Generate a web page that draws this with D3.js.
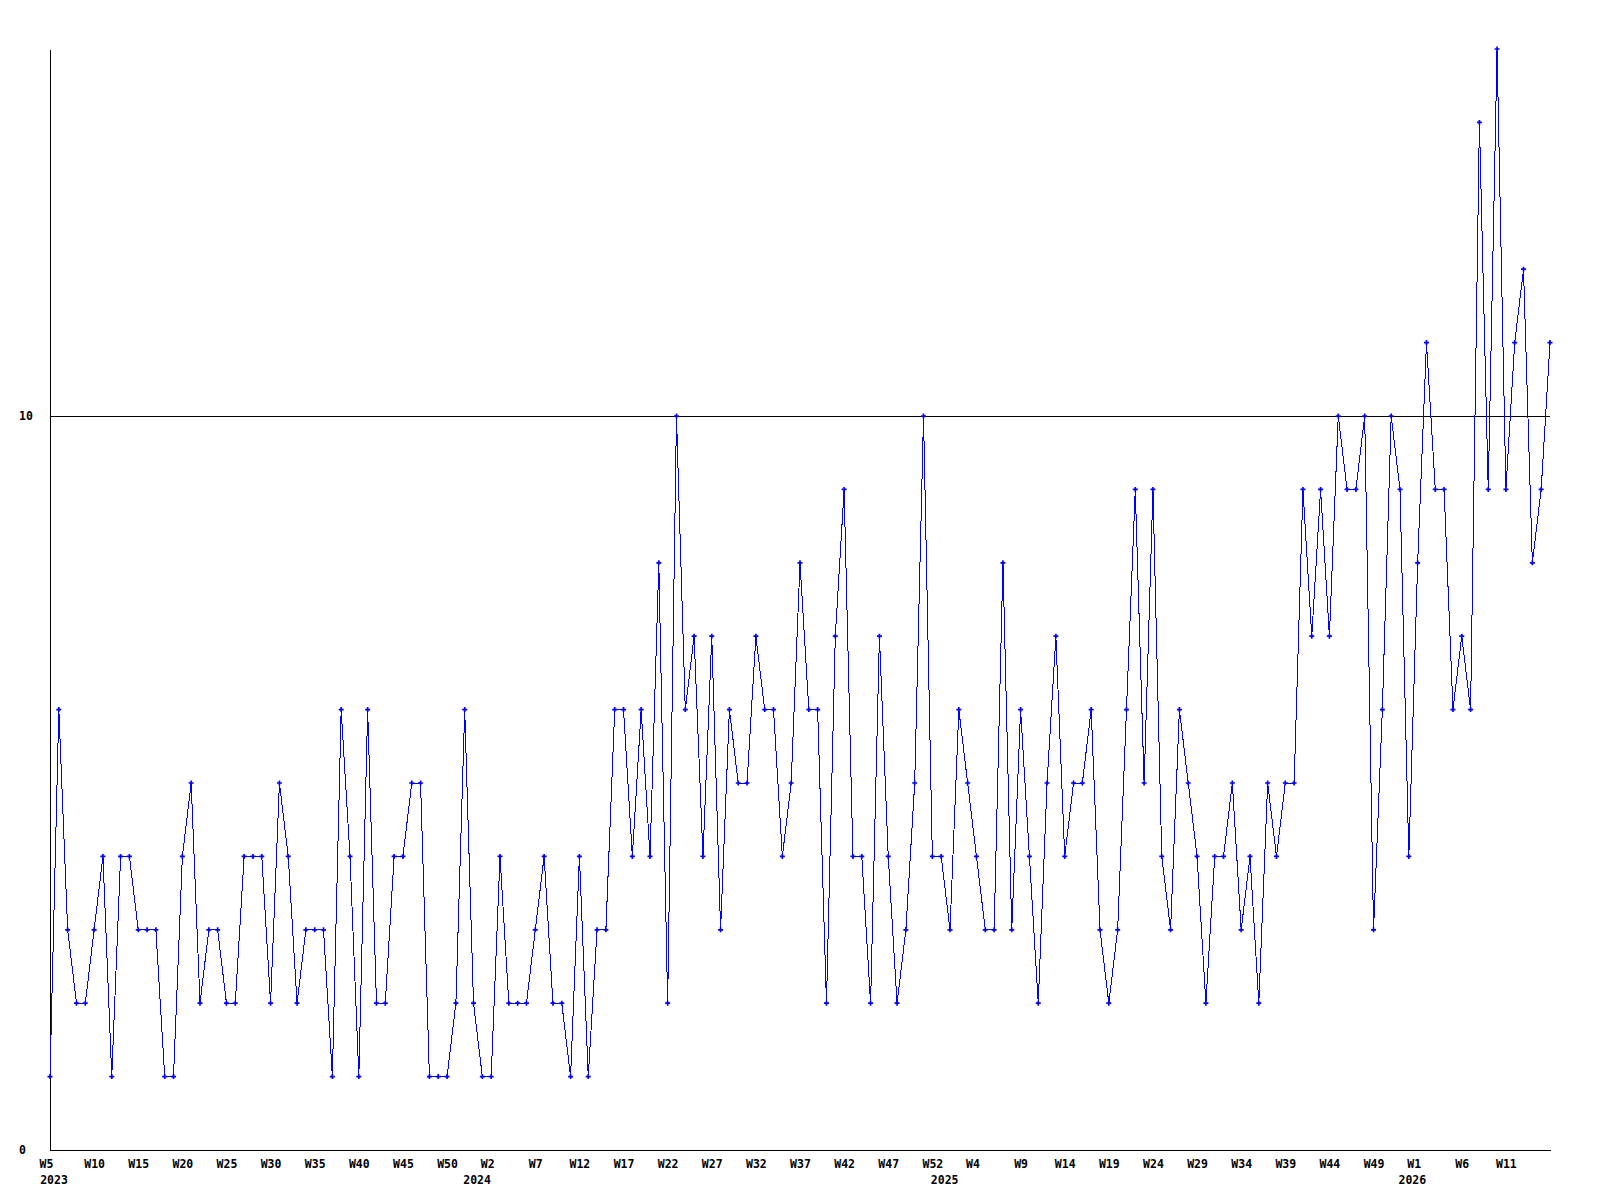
<!DOCTYPE html>
<html>
    <head>
        <title></title>
        <style>
         body { margin: 0; background: #fff; }
         text { font-family: "DejaVu Sans Mono", monospace; font-weight: bold; font-size: 11.5px; fill: #000; }
         .axis path, .grid line { stroke: #000; shape-rendering: crispEdges; }
         .series path { fill: none; stroke: #0000ff; stroke-width: 1px; shape-rendering: crispEdges; }
         .marks path { fill: #0000ff; }
        </style>
    </head>
    <body>
        <svg width="1600" height="1200"></svg>

        <script src="https://cdn.jsdelivr.net/npm/d3@7"></script>
        <script>

         // weeks covered per year
         var years = [2023, 2024, 2025, 2026];
         var firstWeek = [5, 1, 1, 1];
         var lastWeek = [53, 53, 53, 16];

         // weekly counts, W5 2023 .. W16 2026
         var values = [
             1, 6, 3, 2, 2, 3, 4, 1, 4, 4,
             3, 3, 3, 1, 1, 4, 5, 2, 3, 3,
             2, 2, 4, 4, 4, 2, 5, 4, 2, 3,
             3, 3, 1, 6, 4, 1, 6, 2, 2, 4,
             4, 5, 5, 1, 1, 1, 2, 6, 2, 1,
             1, 4, 2, 2, 2, 3, 4, 2, 2, 1,
             4, 1, 3, 3, 6, 6, 4, 6, 4, 8,
             2, 10, 6, 7, 4, 7, 3, 6, 5, 5,
             7, 6, 6, 4, 5, 8, 6, 6, 2, 7,
             9, 4, 4, 2, 7, 4, 2, 3, 5, 10,
             4, 4, 3, 6, 5, 4, 3, 3, 8, 3,
             6, 4, 2, 5, 7, 4, 5, 5, 6, 3,
             2, 3, 6, 9, 5, 9, 4, 3, 6, 5,
             4, 2, 4, 4, 5, 3, 4, 2, 5, 4,
             5, 5, 9, 7, 9, 7, 10, 9, 9, 10,
             3, 6, 10, 9, 4, 8, 11, 9, 9, 6,
             7, 6, 14, 9, 15, 9, 11, 12, 8, 9,
             11
         ];

         var yTicks = [0, 10];
         var yMax = 15;
         var tickEvery = 5;

         // build categories "2023-W5" ...
         var categories = [];
         years.forEach(function(yr, k) {
             for (var w = firstWeek[k]; w <= lastWeek[k]; w++) categories.push(yr + '-W' + w);
         });
         var data = categories.map(function(c, i) { return { cat: c, value: values[i] }; });

         var svg = d3.select('svg');
         var plotLeft = 50, plotRight = 1550, plotTop = 49, plotBottom = 1150;

         var x = d3.scalePoint().domain(categories).range([plotLeft, plotRight]);
         var y = d3.scaleLinear().domain([0, yMax]).range([plotBottom, plotTop]);

         // gridline at 10
         svg.append('g')
            .attr('class', 'grid')
            .selectAll('line')
            .data(yTicks.filter(function(d) { return d > 0; }))
            .enter()
            .append('line')
            .attr('x1', plotLeft)
            .attr('x2', plotRight)
            .attr('y1', function(d) { return y(d); })
            .attr('y2', function(d) { return y(d); });

         // x axis (last slot gets no label)
         var tickCats = categories.filter(function(c, i) {
             return i % tickEvery === 0 && i < categories.length - 1;
         });
         // first tick of each year sits a little to the left
         var seenYear = {};
         var yearFirstTick = {};
         tickCats.forEach(function(c) {
             var yr = c.split('-')[0];
             if (!seenYear[yr]) { seenYear[yr] = true; yearFirstTick[c] = true; }
         });

         svg.append('g')
            .attr('class', 'axis')
            .attr('transform', 'translate(0,' + plotBottom + ')')
            .call(d3.axisBottom(x)
                    .tickValues(tickCats)
                    .tickFormat(function(c) { return c.split('-')[1]; })
                    .tickSize(0)
                    .tickSizeOuter(0)
                    .tickPadding(10))
            .call(function(g) {
                g.attr('font-size', null).attr('font-family', null);
                g.selectAll('text')
                 .attr('fill', '#000')
                 .attr('dx', function(c) { return yearFirstTick[c] ? -4 : 0; });
            });

         // year labels under the axis
         var step = x.step();
         svg.append('g')
            .selectAll('text')
            .data(years)
            .enter()
            .append('text')
            .attr('text-anchor', 'middle')
            .attr('x', function(yr, k) {
                var startX = firstWeek[k] === 1 ? x(yr + '-W1') - 0.6 * step : plotLeft;
                return Math.max(startX, 54);
            })
            .attr('y', 1184)
            .text(function(yr) { return yr; });

         // y axis
         svg.append('g')
            .attr('class', 'axis')
            .attr('transform', 'translate(' + plotLeft + ',0)')
            .call(d3.axisLeft(y)
                    .tickValues(yTicks)
                    .tickFormat(d3.format('d'))
                    .tickSize(0)
                    .tickSizeOuter(0))
            .call(function(g) {
                g.attr('font-size', null).attr('font-family', null);
                g.selectAll('text')
                 .attr('fill', '#000')
                 .attr('text-anchor', 'start')
                 .attr('x', -31)
                 .attr('dy', '0.33em');
            });

         // series
         var line = d3.line()
                      .x(function(d) { return x(d.cat); })
                      .y(function(d) { return y(d.value); });

         svg.append('g')
            .attr('class', 'series')
            .append('path')
            .datum(data)
            .attr('d', line);

         svg.append('g')
            .attr('class', 'marks')
            .selectAll('path')
            .data(data)
            .enter()
            .append('path')
            .attr('d', d3.symbol(d3.symbolCross, 14))
            .attr('transform', function(d) { return 'translate(' + x(d.cat) + ',' + y(d.value) + ')'; });
        </script>
    </body>
</html>
